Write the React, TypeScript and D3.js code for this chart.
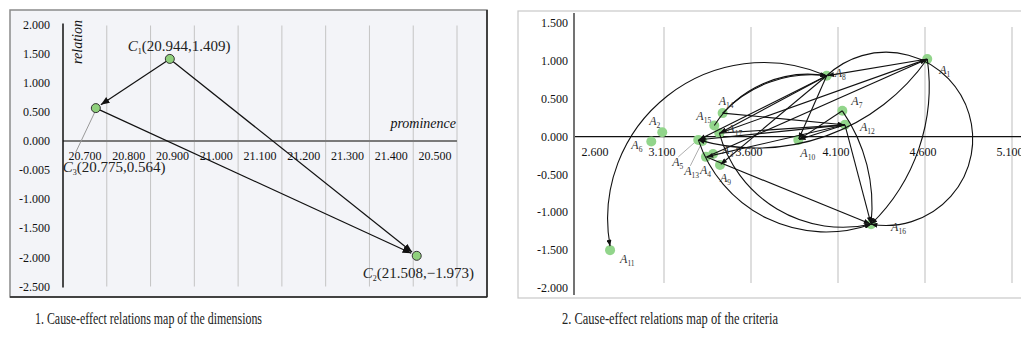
import * as d3 from "d3";

// ---------- chart 1: dimensions ----------
const dimNames = ["C1", "C2", "C3"];
const dimProminence = [20.944, 21.508, 20.775];
const dimRelation = [1.409, -1.973, 0.564];
const dimLinkFrom = ["C1", "C1", "C3"];
const dimLinkTo = ["C3", "C2", "C2"];

const dimXTickValues = [20.7, 20.8, 20.9, 21.0, 21.1, 21.2, 21.3, 21.4, 21.5];
const dimXTickLabels = ["20.700", "20.800", "20.900", "21.000", "21.100", "21.200", "21.300", "21.400", "20.500"];
const dimYTickValues = [2, 1.5, 1, 0.5, 0, -0.5, -1, -1.5, -2, -2.5];
const dimYTickLabels = ["2.000", "1.500", "1.000", "0.500", "0.000", "-0.005", "-1.000", "-1.500", "-2.000", "-2.500"];
const dimPointText = ["(20.944,1.409)", "(21.508,\u22121.973)", "(20.775,0.564)"];

// ---------- chart 2: criteria ----------
const critNames = ["A1", "A2", "A3", "A4", "A5", "A6", "A7", "A8", "A9", "A10", "A11", "A12", "A13", "A14", "A15", "A16", "A17"];
const critProminence = [4.613, 3.09, 3.382, 3.341, 3.297, 3.027, 4.125, 4.035, 3.422, 3.872, 2.79, 4.14, 3.32, 3.437, 3.389, 4.29, 3.418];
const critRelation = [1.024, 0.058, -0.23, -0.268, -0.044, -0.066, 0.34, 0.803, -0.374, -0.044, -1.5, 0.155, -0.057, 0.31, 0.146, -1.157, 0.045];

const critLinkFrom = ["A8", "A8", "A1", "A1", "A7", "A12", "A4", "A5", "A17", "A8", "A7", "A12", "A8", "A8", "A8", "A12", "A12", "A14", "A15", "A14", "A17", "A3", "A1", "A17"];
const critLinkTo = ["A11", "A16", "A8", "A16", "A16", "A16", "A16", "A16", "A16", "A10", "A10", "A10", "A9", "A5", "A17", "A5", "A4", "A12", "A8", "A8", "A1", "A1", "A5", "A12"];
// how far each link bows away from the straight chord (share of chord length)
const critLinkBend = [0.3, -0.81, 0, -0.12, -0.09, 0, 0, 0.21, 0.2, 0, 0, 0, 0, 0, 0, 0, 0, 0, -0.15, -0.12, 0, 0, -0.16, 0];

const critXTickValues = [2.6, 3.1, 3.6, 4.1, 4.6, 5.1];
const critXTickLabels = ["2.600", "3.100", "3.600", "4.100", "4.600", "5.100"];
const critYTickValues = [1.5, 1, 0.5, 0, -0.5, -1, -1.5, -2];
const critYTickLabels = ["1.500", "1.000", "0.500", "0.000", "-0.500", "-1.000", "-1.500", "-2.000"];

const captions = ["1. Cause-effect relations map of the dimensions", "2. Cause-effect relations map of the criteria"];

// label placement (px offset from the point)
const dimLabelOffset: Record<string, [number, number]> = {
  C1: [-42, -8],
  C2: [-54, 22],
  C3: [-33, 64],
};
const critLabelOffset: Record<string, [number, number]> = {
  A1: [12, 15], A2: [-13, -7], A3: [9, 0], A4: [-6, 17], A5: [-26, 26],
  A6: [-20, 7], A7: [9, -6], A8: [8, 1], A9: [0, 17], A10: [2, 17],
  A11: [10, 13], A12: [15, 6], A13: [-18, 34], A14: [-4, -8], A15: [-18, -6],
  A16: [20, 7], A17: [8, 0],
};

const serif = "'Liberation Serif', 'Times New Roman', serif";

function arcPath(x1: number, y1: number, x2: number, y2: number, bend: number) {
  if (!bend) return `M${x1},${y1}L${x2},${y2}`;
  const L = Math.hypot(x2 - x1, y2 - y1);
  const s = Math.abs(bend) * L;
  const r = (L * L) / 4 / (2 * s) + s / 2;
  const large = s > L / 2 ? 1 : 0;
  const sweep = bend > 0 ? 0 : 1;
  return `M${x1},${y1}A${r},${r} 0 ${large} ${sweep} ${x2},${y2}`;
}

function shorten(x1: number, y1: number, x2: number, y2: number, d: number) {
  const L = Math.hypot(x2 - x1, y2 - y1);
  return [x2 - ((x2 - x1) / L) * d, y2 - ((y2 - y1) / L) * d];
}

function DimensionChart() {
  const x = d3.scaleLinear().domain([20.7, 21.6]).range([63, 457]);
  const y = d3.scaleLinear().domain([2, -2.5]).range([24.5, 286.5]);
  const step = x(20.8) - x(20.7);
  const pos = (n: string) => {
    const i = dimNames.indexOf(n);
    return [x(dimProminence[i]), y(dimRelation[i])];
  };

  return (
    <g>
      <rect x={10} y={10} width={477} height={287} fill="#f3f4f8" stroke="#8a8a8a" strokeWidth={1.5} />
      <line x1={487} y1={10} x2={487} y2={297} stroke="#222" strokeWidth={1.5} />
      <line x1={10} y1={297} x2={487} y2={297} stroke="#222" strokeWidth={1.5} />

      {d3.range(20.8, 21.65, 0.1).map((v) => (
        <line key={v} x1={x(v)} x2={x(v)} y1={y(2) + 1} y2={y(-2.5)} stroke="#c4c4c4" strokeWidth={1} />
      ))}

      <line x1={x(20.7)} x2={x(21.6)} y1={y(0)} y2={y(0)} stroke="#7a7a7a" strokeWidth={2} />
      <line x1={x(20.7)} x2={x(20.7)} y1={y(2) - 1} y2={y(-2.5) + 1} stroke="#111" strokeWidth={1.5} />

      {dimYTickValues.map((v, i) => (
        <text key={v} x={50} y={y(v)} dy="0.35em" textAnchor="end" fontSize={12} fill="#111">
          {dimYTickLabels[i]}
        </text>
      ))}
      {dimXTickValues.map((v, i) => (
        <text key={v} x={x(v) + step / 2} y={y(0) + 19} textAnchor="middle" fontSize={12} fill="#111">
          {dimXTickLabels[i]}
        </text>
      ))}

      <text transform={`translate(82,42) rotate(-90)`} textAnchor="middle" fontSize={14} fontStyle="italic" fill="#111">
        relation
      </text>
      <text x={456} y={128} textAnchor="end" fontSize={14} fontStyle="italic" fill="#111">
        prominence
      </text>

      {dimLinkFrom.map((f, i) => {
        const [x1, y1] = pos(f);
        const [x2, y2] = pos(dimLinkTo[i]);
        const [ex, ey] = shorten(x1, y1, x2, y2, 6);
        return (
          <path key={i} d={`M${x1},${y1}L${ex},${ey}`} stroke="#111" strokeWidth={1.2} fill="none" markerEnd="url(#arrowDim)" />
        );
      })}

      {/* leader line for C3 */}
      <line x1={pos("C3")[0] - 1} y1={pos("C3")[1] + 4} x2={pos("C3")[0] - 20} y2={pos("C3")[1] + 44} stroke="#999" strokeWidth={1} />

      {dimNames.map((n, i) => {
        const [px, py] = pos(n);
        const [dx, dy] = dimLabelOffset[n];
        return (
          <g key={n}>
            <circle cx={px} cy={py} r={4.5} fill="#8fd07c" stroke="#333" strokeWidth={1} />
            <text x={px + dx} y={py + dy} fontSize={15} fill="#222">
              <tspan fontStyle="italic">C</tspan>
              <tspan fontSize={8} dy={3}>{n.slice(1)}</tspan>
              <tspan dy={-3}>{dimPointText[i]}</tspan>
            </text>
          </g>
        );
      })}
    </g>
  );
}

function CriteriaChart() {
  const x = d3.scaleLinear().domain([2.6, 5.1]).range([577, 1012]);
  const y = d3.scaleLinear().domain([1.5, -2]).range([23, 288]);
  const pos = (n: string) => {
    const i = critNames.indexOf(n);
    return [x(critProminence[i]), y(critRelation[i])];
  };

  return (
    <g>
      <rect x={518} y={11} width={510} height={287} fill="#fff" stroke="#c8c8c8" strokeWidth={1.2} />

      {critXTickValues.slice(1).map((v) => (
        <line key={v} x1={x(v)} x2={x(v)} y1={27} y2={283} stroke="#bdbdbd" strokeWidth={1} />
      ))}

      <line x1={575} x2={1021} y1={y(0)} y2={y(0)} stroke="#111" strokeWidth={1.2} />
      <line x1={574} x2={574} y1={13} y2={295} stroke="#444" strokeWidth={1.5} />

      {critYTickValues.map((v, i) => (
        <text key={v} x={568} y={y(v)} dy="0.35em" textAnchor="end" fontSize={12} fill="#111">
          {critYTickLabels[i]}
        </text>
      ))}
      {critXTickValues.map((v, i) => (
        <text key={v} x={x(v) + (i === 0 ? 18 : -2)} y={y(0) + 19} textAnchor="middle" fontSize={12} fill="#111">
          {critXTickLabels[i]}
        </text>
      ))}

      {/* leader lines for A5, A13 */}
      <line x1={pos("A5")[0] - 3} y1={pos("A5")[1] + 2} x2={pos("A5")[0] - 20} y2={pos("A5")[1] + 17} stroke="#999" strokeWidth={0.8} />
      <line x1={pos("A13")[0] - 1} y1={pos("A13")[1] + 3} x2={pos("A13")[0] - 12} y2={pos("A13")[1] + 25} stroke="#999" strokeWidth={0.8} />

      {critNames.map((n) => {
        const [px, py] = pos(n);
        return <circle key={n} cx={px} cy={py} r={5} fill="#92d58b" />;
      })}

      {critLinkFrom.map((f, i) => {
        const [x1, y1] = pos(f);
        const [x2, y2] = pos(critLinkTo[i]);
        const to = critLinkTo[i];
        const bend = critLinkBend[i];
        const [ex, ey] = to === "A11" ? [x2, y2 - 4] : bend ? [x2, y2] : shorten(x1, y1, x2, y2, 1);
        return (
          <path key={i} d={arcPath(x1, y1, ex, ey, bend)} stroke="#111" strokeWidth={1.1} fill="none" markerEnd="url(#arrowCrit)" />
        );
      })}

      {critNames.map((n) => {
        const [px, py] = pos(n);
        const [dx, dy] = critLabelOffset[n];
        return (
          <text key={n} x={px + dx} y={py + dy} fontSize={12} fill="#333">
            <tspan fontStyle="italic">A</tspan>
            <tspan fontSize={7.5} dy={3}>{n.slice(1)}</tspan>
          </text>
        );
      })}
    </g>
  );
}

export default function App() {
  return (
    <svg
      width={1021}
      height={358}
      viewBox="0 0 1021 358"
      style={{ position: "absolute", left: 0, top: 0, background: "#fff" }}
      fontFamily={serif}
    >
      <defs>
        <marker id="arrowDim" viewBox="0 0 10 8" refX={10} refY={4} markerWidth={9} markerHeight={7} markerUnits="userSpaceOnUse" orient="auto">
          <path d="M0,0L10,4L0,8Z" fill="#111" />
        </marker>
        <marker id="arrowCrit" viewBox="0 0 10 8" refX={10} refY={4} markerWidth={7} markerHeight={5} markerUnits="userSpaceOnUse" orient="auto">
          <path d="M0,0L10,4L0,8Z" fill="#111" />
        </marker>
      </defs>
      <DimensionChart />
      <CriteriaChart />
      <text x={35} y={324} fontSize={17} fill="#222" textLength={227} lengthAdjust="spacingAndGlyphs">
        {captions[0]}
      </text>
      <text x={562} y={324} fontSize={17} fill="#222" textLength={216} lengthAdjust="spacingAndGlyphs">
        {captions[1]}
      </text>
    </svg>
  );
}
